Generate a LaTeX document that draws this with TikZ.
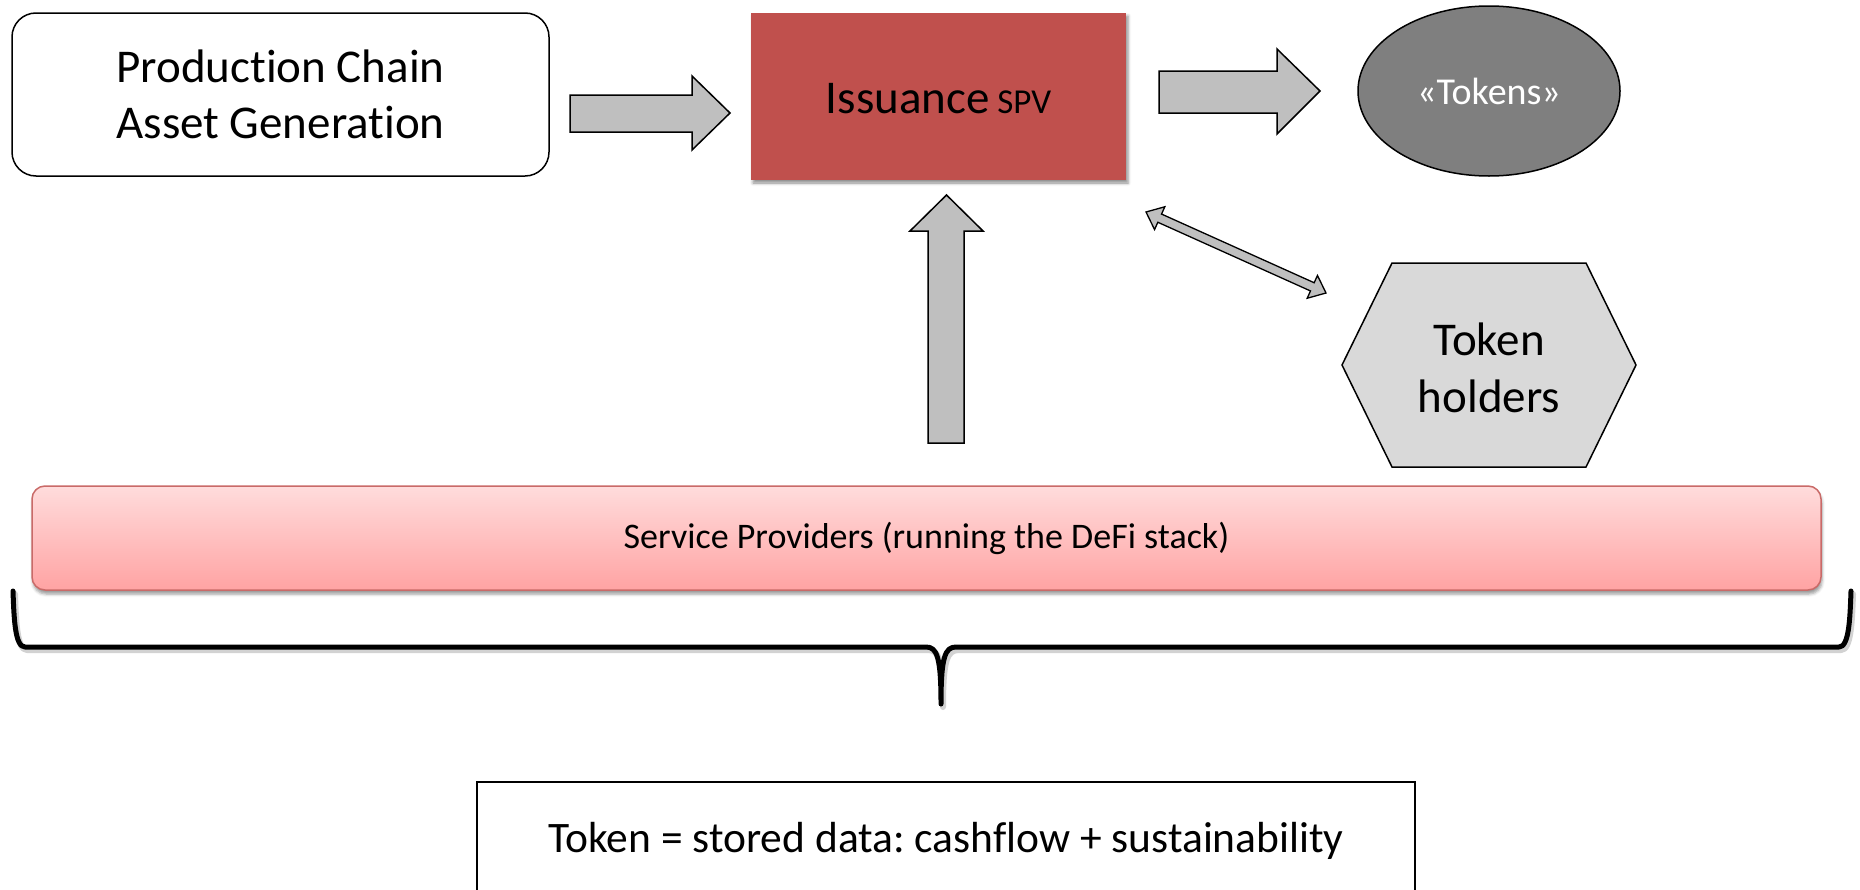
\documentclass[tikz,border=0pt]{standalone}
\usepackage{fontspec}
\setmainfont{Carlito}[Ligatures=NoCommon]
\frenchspacing
\usetikzlibrary{shapes.geometric,shadows.blur,calc}
\definecolor{issred}{HTML}{C0504D}
\definecolor{arrgray}{HTML}{BFBFBF}
\definecolor{tokgray}{HTML}{7F7F7F}
\definecolor{holdgray}{HTML}{D9D9D9}
\definecolor{sptop}{HTML}{FFDCDC}
\definecolor{spbot}{HTML}{FFA3A3}
\begin{document}
\begin{tikzpicture}[x=1pt,y=-1pt,
  prodbox/.style={draw=black,line width=1.5pt,rounded corners=24pt,fill=white,align=center,
    font=\fontsize{47}{56}\selectfont,inner sep=0pt},
  issbox/.style={fill=issred,inner sep=0pt,
    blur shadow={shadow xshift=2pt,shadow yshift=-3pt,shadow blur radius=3pt,shadow opacity=45}},
  tokell/.style={ellipse,draw=black,line width=1.5pt,fill=tokgray,text=white,inner sep=0pt,
    font=\fontsize{38}{45}\selectfont},
  holdshape/.style={draw=black,line width=1.5pt,fill=holdgray},
  holdtext/.style={align=center,font=\fontsize{47}{57}\selectfont,inner sep=0pt},
  blockarrow/.style={draw=black,line width=1.5pt,fill=arrgray,line join=miter},
  spbar/.style={draw=issred!85,line width=1.5pt,rounded corners=13pt,top color=sptop,bottom color=spbot,
    inner sep=0pt,font=\fontsize{36}{43}\selectfont,
    blur shadow={shadow xshift=1pt,shadow yshift=-4pt,shadow blur radius=3pt,shadow opacity=40}},
  notebox/.style={draw=black,line width=1.5pt,fill=white,inner sep=0pt,font=\fontsize{43.5}{52}\selectfont},
  bracepath/.style={draw=black,line width=5pt,line cap=round,line join=round},
  braceshadow/.style={draw=black!35,line width=6pt,line cap=round,line join=round,opacity=0.5}
]
\useasboundingbox (0,0) rectangle (1860,889);

% main nodes
\node[prodbox,minimum width=537pt,minimum height=163pt] (prod) at (280.5,94.5)
  {Production Chain\\Asset Generation};
\node[issbox,minimum width=375pt,minimum height=167pt] (iss) at (938.5,96.5) {};
\node at ($(iss.center)+(0,2)$) {\fontsize{47}{56}\selectfont Issuance\,{\fontsize{35}{42}\selectfont SPV}};
\node[tokell,minimum width=262pt,minimum height=170pt] (tok) at (1489,91) {«Tokens»};

% hexagon "Token holders"
\draw[holdshape] (1342,365) -- (1392,263) -- (1586,263) -- (1636,365) -- (1586,467) -- (1392,467) -- cycle;
\node[holdtext] (hold) at (1489,368) {Token\\holders};

% block arrows
\draw[blockarrow] (570,95) -- (692,95) -- (692,76) -- (730,113) -- (692,150) -- (692,132) -- (570,132) -- cycle;
\draw[blockarrow] (1159,71) -- (1277,71) -- (1277,49) -- (1320,91) -- (1277,134) -- (1277,113) -- (1159,113) -- cycle;
\draw[blockarrow] (928,443) -- (928,231) -- (910,231) -- (946.5,195) -- (983,231) -- (964,231) -- (964,443) -- cycle;

% double arrow between Issuance SPV and Token holders
\coordinate (da1) at (1146,212);
\coordinate (da2) at (1326,293);
\coordinate (h1) at ($(da1)!15pt!(da2)$);
\coordinate (h2) at ($(da2)!15pt!(da1)$);
\draw[blockarrow,line width=1.3pt] (da1) -- ($(h1)!12.5pt!90:(da2)$) -- ($(h1)!4.5pt!90:(da2)$)
  -- ($(h2)!4.5pt!-90:(da1)$) -- ($(h2)!12.5pt!-90:(da1)$) -- (da2)
  -- ($(h2)!12.5pt!90:(da1)$) -- ($(h2)!4.5pt!90:(da1)$)
  -- ($(h1)!4.5pt!-90:(da2)$) -- ($(h1)!12.5pt!-90:(da2)$) -- cycle;

% service providers bar
\node[spbar,minimum width=1789pt,minimum height=104pt] (sp) at (926.5,538)
  {Service Providers (running the DeFi stack)};

% brace
\draw[braceshadow] (15,594) .. controls (16,622) and (17,650) .. (27,650) -- (928,650)
  .. controls (939,650) and (943,660) .. (943,707)
  (1841,650) -- (959,650) .. controls (947,650) and (943,660) .. (943,707)
  (1853,594) .. controls (1852,622) and (1851,650) .. (1841,650);
\draw[bracepath] (13,591) .. controls (14,619) and (15,647) .. (25,647) -- (926,647)
  .. controls (937,647) and (941,657) .. (941,704)
  (1839,647) -- (956,647) .. controls (945,647) and (941,657) .. (941,704)
  (1851,591) .. controls (1850,619) and (1849,647) .. (1839,647);

% note box (continues below the picture edge)
\node[notebox,minimum width=938pt,minimum height=118pt] (note) at (946,841)
  {Token = stored data: cashflow + sustainability};
\end{tikzpicture}
\end{document}
